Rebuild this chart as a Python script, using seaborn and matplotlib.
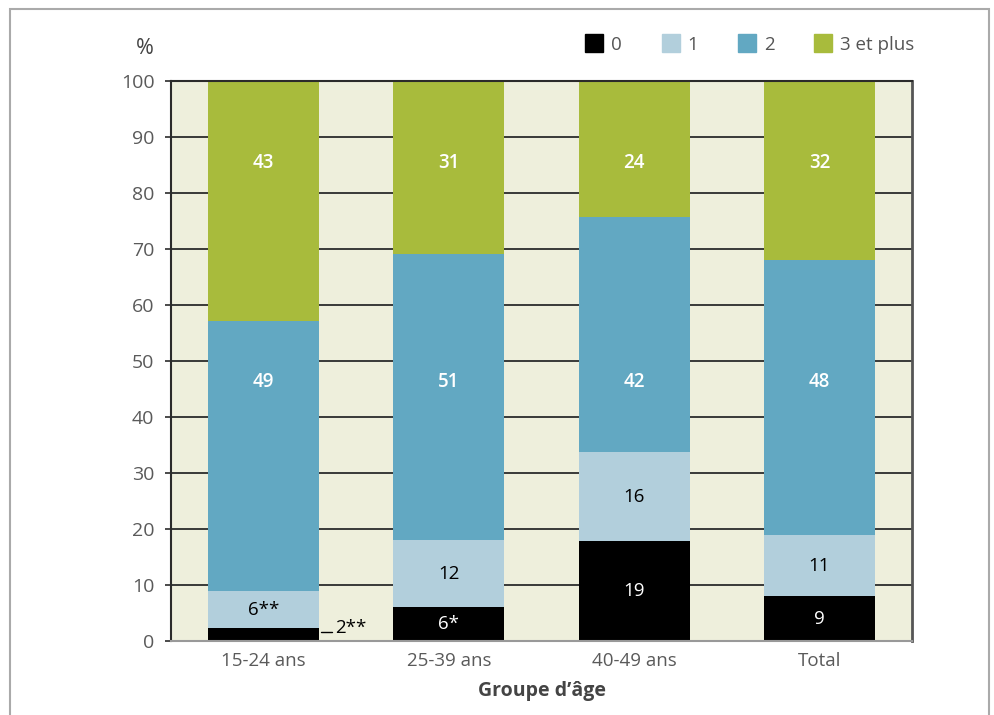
import numpy as np
import pandas as pd
import matplotlib.pyplot as plt
import matplotlib.patches as mpatches
from matplotlib.lines import Line2D
import seaborn as sns

# Data
groups = ["15-24 ans", "25-39 ans", "40-49 ans", "Total"]
series = ["0", "1", "2", "3 et plus"]
v0 = [2.3, 6.1, 17.9, 8.0]
v1 = [6.6, 11.9, 15.8, 10.9]
v2 = [48.2, 51.1, 42.0, 49.1]
v3 = [42.9, 30.9, 24.3, 32.0]
labels0 = ["2**", "6*", "19", "9"]
labels1 = ["6**", "12", "16", "11"]
labels2 = ["49", "51", "42", "48"]
labels3 = ["43", "31", "24", "32"]
yticks = [0, 10, 20, 30, 40, 50, 60, 70, 80, 90, 100]

colors = ["#000000", "#B2CFDC", "#62A8C2", "#A8BB3C"]
text_colors = ["white", "black", "white", "white"]
weights = ["normal", "normal", "semibold", "semibold"]

sns.set_theme(style="white")
plt.rcParams['font.family'] = ['Open Sans', 'DejaVu Sans']

fig = plt.figure(figsize=(9.95, 7.15), dpi=100)
ax = fig.add_axes([0.1719, 0.1035, 0.7447, 0.7832])
ax.set_facecolor("#EEEFDC")

# Grid lines behind the bars
for t in yticks:
    ax.axhline(t, color="#2b2b2b", linewidth=1.3, zorder=0)

# Stacked bars: draw cumulative totals, tallest first
stack = np.array([v0, v1, v2, v3])
cum = np.cumsum(stack, axis=0)
for i in range(3, -1, -1):
    df = pd.DataFrame({"group": groups, "value": cum[i]})
    sns.barplot(data=df, x="group", y="value", color=colors[i],
                saturation=1, width=0.6, ax=ax, zorder=2, linewidth=0)

# Value labels (the two upper series sit on a common line, as in the original)
all_labels = [labels0, labels1, labels2, labels3]
fixed_y = {2: 46.2, 3: 85.4}
for i in range(4):
    for j, g in enumerate(groups):
        if i == 0 and j == 0:
            continue
        y = fixed_y.get(i, cum[i][j] - stack[i][j] / 2)
        ax.text(j, y, all_labels[i][j], ha="center", va="center",
                color=text_colors[i], fontsize=13.5, fontweight=weights[i], zorder=3)

# Small outside label for the 15-24 black segment
ax.plot([0.31, 0.37], [cum[0][0] - 0.7, cum[0][0] - 0.7], color="black", lw=1, zorder=3,
        clip_on=False)
ax.text(0.385, cum[0][0], labels0[0], ha="left", va="center", color="black",
        fontsize=13.5, zorder=3)

ax.set_ylim(0, 100)
ax.set_xlim(-0.5, 3.5)
ax.set_yticks(yticks)
ax.set_xlabel("Groupe d\u2019âge", fontsize=14, fontweight="bold", color="#444444", labelpad=8)
ax.set_ylabel("")
ax.tick_params(axis="y", direction="out", length=4, width=1.2, color="#2b2b2b",
               labelsize=14, labelcolor="#5a5a5a", pad=8, left=True)
ax.tick_params(axis="x", length=0, labelsize=13.5, labelcolor="#5a5a5a", pad=8)

for side in ["left", "top"]:
    ax.spines[side].set_color("#2b2b2b")
    ax.spines[side].set_linewidth(1.5)
ax.spines["right"].set_color("#555555")
ax.spines["right"].set_linewidth(2)
ax.spines["bottom"].set_color("#999999")
ax.spines["bottom"].set_linewidth(1.5)

# "%" unit label
fig.text(145 / 995, 1 - 48 / 715, "%", fontsize=15.5, color="#444444", ha="center", va="center")

# Legend
handles = [Line2D([0], [0], marker="s", linestyle="", markersize=13,
                  markerfacecolor=c, markeredgecolor=c) for c in colors]
fig.legend(handles, series, loc="center right", bbox_to_anchor=(0.936, 1 - 45 / 715),
           ncol=4, frameon=False, fontsize=13.5, handlelength=1.0, handletextpad=0.4,
           columnspacing=2.1, labelcolor="#555555")

# Outer frame
frame = mpatches.Rectangle((10 / 995, -0.05), (989 - 10) / 995, 1.05 - 9 / 715,
                           transform=fig.transFigure, fill=False,
                           edgecolor="#aaaaaa", linewidth=1.5)
fig.patches.append(frame)

fig.savefig("out.png", dpi=100)
